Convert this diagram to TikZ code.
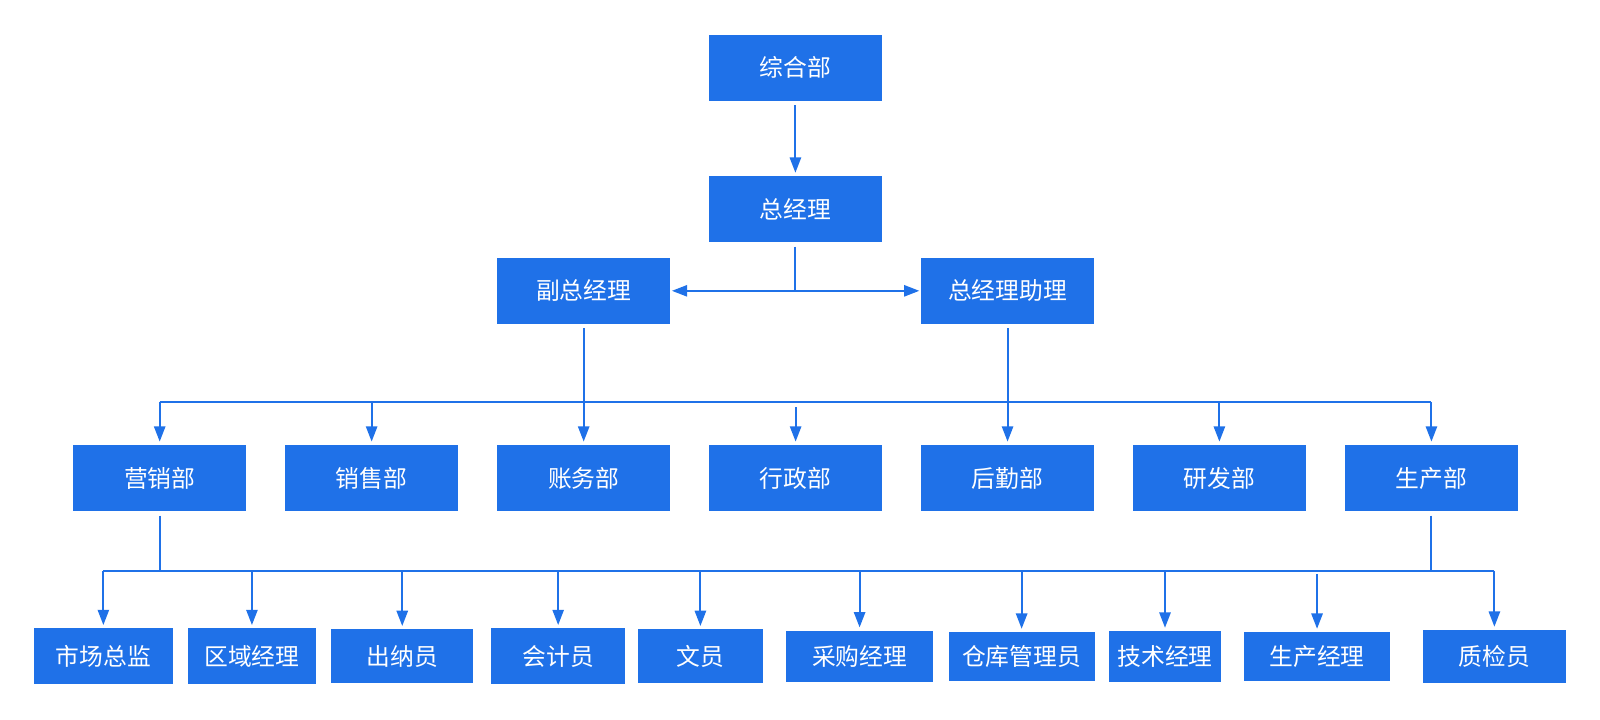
\documentclass[tikz,border=0pt]{standalone}
\usepackage{fontspec}
\setmainfont{Noto Sans CJK SC}
\usetikzlibrary{arrows.meta}
\definecolor{bl}{RGB}{31,113,232}
\tikzset{
  box/.style={fill=bl, text=white, inner sep=0pt, font=\fontsize{23.3}{28}\selectfont},
  topbox/.style={box, minimum width=169.5pt, minimum height=65pt},
  conn/.style={draw=bl, line width=2pt},
  arr/.style={conn, -{Triangle[width=11pt,length=15pt]}, shorten >=3pt},
}
\begin{document}
\begin{tikzpicture}[x=1pt,y=-1pt]
\path[use as bounding box] (0,0) rectangle (1568,705);
% top levels
\node[topbox] (zh)  at (779.5,66.5) {综合部};
\node[topbox] (zjl) at (779.5,205) {总经理};
\node[topbox] (fz)  at (572,285) {副总经理};
\node[topbox] (zl)  at (987.4,285) {总经理助理};
% departments
\node[topbox] (yx) at (156.5,468.5) {营销部};
\node[topbox] (xs) at (364.2,468.5) {销售部};
\node[topbox] (zw) at (572,468.5) {账务部};
\node[topbox] (xz) at (779.7,468.5) {行政部};
\node[topbox] (hq) at (987.4,468.5) {后勤部};
\node[topbox] (yf) at (1195,468.5) {研发部};
\node[topbox] (sc) at (1402.8,468.5) {生产部};
% bottom row
\node[box, minimum width=136pt, minimum height=54.5pt] (b1)  at (101.3,643) {市场总监};
\node[box, minimum width=125.7pt, minimum height=54.5pt] (b2) at (246.9,643) {区域经理};
\node[box, minimum width=139.3pt, minimum height=53pt] (b3) at (394.2,643.2) {出纳员};
\node[box, minimum width=131pt, minimum height=54.5pt] (b4) at (547,643) {会计员};
\node[box, minimum width=121.8pt, minimum height=53pt] (b5) at (686.4,643.2) {文员};
\node[box, minimum width=144pt, minimum height=50.7pt] (b6) at (842.4,643.4) {采购经理};
\node[box, minimum width=143.2pt, minimum height=48pt] (b7) at (1001.2,643.4) {仓库管理员};
\node[box, minimum width=109.4pt, minimum height=49.6pt] (b8) at (1141.7,643.2) {技术经理};
\node[box, minimum width=142.8pt, minimum height=48pt] (b9) at (1290.7,643.4) {生产经理};
\node[box, minimum width=139.4pt, minimum height=52pt] (b10) at (1464.5,643.4) {质检员};
% coordinates
\coordinate (j) at (779.5,285);
\coordinate (t1) at (156.5,394.3);
\coordinate (t2) at (364.2,394.3);
\coordinate (t4) at (779.7,399);
\coordinate (t6) at (1195,394.3);
\coordinate (t7) at (1402.8,394.3);
\coordinate (u0) at (156.5,559.3);
\coordinate (u9) at (1402.8,559.3);
\coordinate (c1) at (101.3,559.3);
\coordinate (c2) at (246.9,559.3);
\coordinate (c3) at (394.2,559.3);
\coordinate (c4) at (547,559.3);
\coordinate (c5) at (686.4,559.3);
\coordinate (c6) at (842.4,559.3);
\coordinate (c7) at (1001.2,559.3);
\coordinate (c8) at (1141.7,559.3);
\coordinate (c9) at (1290.7,562.5);
\coordinate (c10) at (1464.5,559.3);
% connectors
\draw[arr, shorten <=4pt] (zh) -- (zjl);
\draw[conn, shorten <=4pt] (zjl) -- (j);
\draw[arr, shorten >=1.5pt] (j) -- (fz);
\draw[arr, shorten >=1.5pt] (j) -- (zl);
\draw[arr, shorten <=4pt] (fz) -- (zw);
\draw[arr, shorten <=4pt] (zl) -- (hq);
\draw[conn] (t1) -- (t7);
\draw[arr] (t1) -- (yx);
\draw[arr] (t2) -- (xs);
\draw[arr] (t4) -- (xz);
\draw[arr] (t6) -- (yf);
\draw[arr] (t7) -- (sc);
\draw[conn, shorten <=4pt] (yx) -- (u0);
\draw[conn, shorten <=4pt] (sc) -- (u9);
\draw[conn] (c1) -- (c10);
\foreach \i in {1,...,10} { \draw[arr] (c\i) -- (b\i); }
\end{tikzpicture}
\end{document}
